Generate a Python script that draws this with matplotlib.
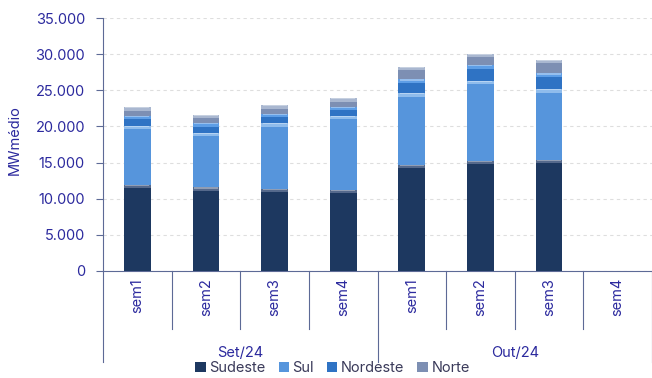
import matplotlib
matplotlib.use("Agg")
import matplotlib.pyplot as plt
import matplotlib.transforms as mtransforms
from matplotlib.patches import Patch
import numpy as np

plt.rcParams['font.family'] = ['Inter', 'DejaVu Sans']

weeks = ["sem1", "sem2", "sem3", "sem4", "sem1", "sem2", "sem3", "sem4"]
months = ["Set/24", "Out/24"]
series_names = ["Sudeste", "Sul", "Nordeste", "Norte"]

sudeste = [11900, 11570, 11340, 11200, 14660, 15260, 15350, 0]
sul = [8150, 7560, 9090, 10240, 9920, 11060, 9780, 0]
nordeste = [1390, 1300, 1290, 1290, 1930, 2130, 2210, 0]
norte = [1200, 1190, 1200, 1160, 1750, 1560, 1840, 0]

colors = ["#1d3860", "#5695dc", "#2f73c4", "#7d8fb3"]
highlights = ["#55698c", "#8fbcec", "#5e9ee6", "#a9b7d0"]
text_color = "#2c2a9e"
axis_color = "#5d6a96"

fig = plt.figure(figsize=(6.52, 3.78), dpi=100)
ax = fig.add_axes([103 / 652, 1 - 271 / 378, 549 / 652, 253 / 378])

x = np.arange(len(weeks))
width = 0.39
bottom = np.zeros(len(weeks))
cap = 450  # height of the bevel strip drawn on each segment's top
for vals, col, hi in zip([sudeste, sul, nordeste, norte], colors, highlights):
    vals = np.array(vals, dtype=float)
    ax.bar(x, vals, width, bottom=bottom, color=col, edgecolor="none", zorder=3)
    mask = vals > 0
    top = bottom + vals
    ax.bar(x[mask], np.full(mask.sum(), cap), width, bottom=top[mask] - cap,
           color=hi, edgecolor="none", zorder=4)
    ax.bar(x[mask], np.full(mask.sum(), cap * 0.35), width * 0.9,
           bottom=top[mask] - cap * 0.35, color="white", alpha=0.35,
           edgecolor="none", zorder=5)
    bottom = top

ax.set_xlim(-0.5, len(weeks) - 0.5)
ax.set_ylim(0, 35000)
ax.set_yticks(np.arange(0, 35001, 5000))
ax.set_yticklabels([f"{v:,}".replace(",", ".") for v in range(0, 35001, 5000)],
                   color=text_color, fontsize=10.5)
ax.tick_params(axis="y", length=5, width=0.8, color=axis_color, pad=8)
ax.yaxis.grid(True, linestyle=(0, (3, 3)), color="#dedede", linewidth=0.8, zorder=0)

ax.set_xticks(x)
ax.set_xticklabels(weeks, rotation=90, color=text_color, fontsize=10.5)
ax.tick_params(axis="x", length=0, pad=5)

for side in ["top", "right"]:
    ax.spines[side].set_visible(False)
for side in ["left", "bottom"]:
    ax.spines[side].set_color(axis_color)
    ax.spines[side].set_linewidth(0.8)

trans = mtransforms.blended_transform_factory(ax.transData, ax.transAxes)
for i in range(len(weeks) + 1):
    xs = i - 0.5
    depth = -0.36 if i % 4 == 0 else -0.23
    ax.plot([xs, xs], [0, depth], transform=trans, color=axis_color,
            linewidth=0.8, clip_on=False)

for j, m in enumerate(months):
    ax.text(j * 4 + 1.5, -0.325, m, transform=trans, ha="center", va="center",
            color=text_color, fontsize=10.5)

fig.text(0.023, 1 - 140 / 378, "MWmédio", rotation=90, ha="center",
         va="center", color=text_color, fontsize=10.5)

handles = [Patch(facecolor=c, edgecolor="none") for c in colors]
fig.legend(handles, series_names, loc="center", bbox_to_anchor=(0.51, 1 - 368 / 378),
           ncol=4, frameon=False, fontsize=10.5, handlelength=0.7, handleheight=0.7,
           handletextpad=0.25, columnspacing=0.9, labelcolor="#3a3a5a")

fig.savefig("out.png", dpi=100)
